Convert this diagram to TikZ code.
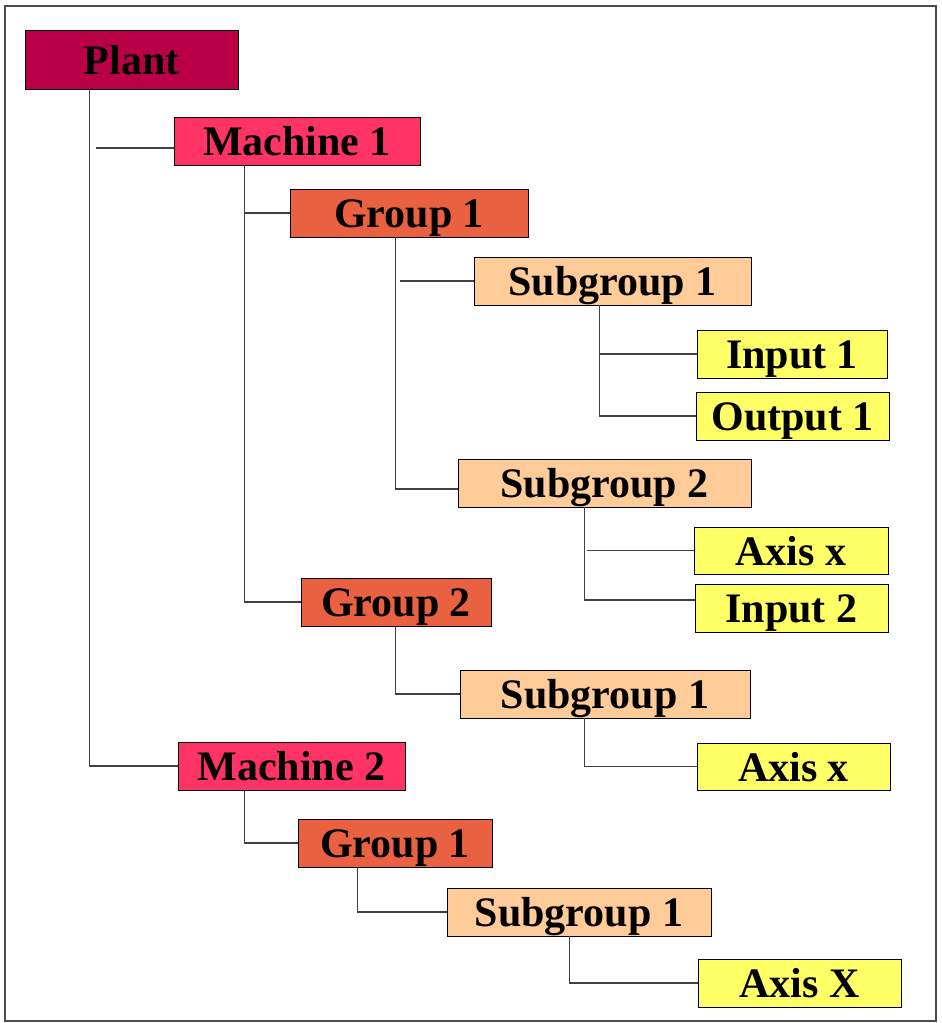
\documentclass[tikz,border=0pt]{standalone}
\usepackage{fontspec}
\setmainfont{Liberation Serif}
\usepackage{xcolor}
\definecolor{plantc}{HTML}{B90046}
\definecolor{machc}{HTML}{FF3366}
\definecolor{groupc}{HTML}{E96140}
\definecolor{subc}{HTML}{FFCC99}
\definecolor{leafc}{HTML}{FFFF66}
\tikzset{
	box/.style={draw=black,line width=0.9pt,inner sep=0pt,text height=29pt,text depth=0pt,font=\fontsize{42}{42}\selectfont\bfseries},
	link/.style={draw=black!75,line width=1.3pt}
}

\begin{document}
\begin{tikzpicture}[x=1pt,y=-1pt]
		\useasboundingbox (0,0) rectangle (942,1023);
		\draw[black!70,line width=1.2pt] (5,6) rectangle (936,1021);
		%boxes
		\node[box,fill=plantc,minimum width=213,minimum height=59] (plant) at (131.5,59.5) {Plant};
		\node[box,fill=machc,minimum width=246,minimum height=48] (m1) at (297,141) {Machine 1};
		\node[box,fill=groupc,minimum width=238,minimum height=48] (g11) at (409,213) {Group 1};
		\node[box,fill=subc,minimum width=277,minimum height=48] (s111) at (612.5,281) {Subgroup 1};
		\node[box,fill=leafc,minimum width=190,minimum height=48] (in1) at (792,354) {Input 1};
		\node[box,fill=leafc,minimum width=193,minimum height=48] (out1) at (792.5,416) {Output 1};
		\node[box,fill=subc,minimum width=293,minimum height=48] (s112) at (604.5,483) {Subgroup 2};
		\node[box,fill=leafc,minimum width=194,minimum height=47] (ax1) at (791,550.5) {Axis x};
		\node[box,fill=leafc,minimum width=193,minimum height=48] (in2) at (791.5,608) {Input 2};
		\node[box,fill=groupc,minimum width=190,minimum height=48] (g12) at (396,602) {Group 2};
		\node[box,fill=subc,minimum width=290,minimum height=48] (s121) at (605,694) {Subgroup 1};
		\node[box,fill=leafc,minimum width=193,minimum height=47] (ax2) at (793.5,766.5) {Axis x};
		\node[box,fill=machc,minimum width=227,minimum height=48] (m2) at (291.5,766) {Machine 2};
		\node[box,fill=groupc,minimum width=194,minimum height=48] (g21) at (395,843) {Group 1};
		\node[box,fill=subc,minimum width=264,minimum height=48] (s211) at (579,912) {Subgroup 1};
		\node[box,fill=leafc,minimum width=203,minimum height=48] (ax3) at (799.5,983) {Axis X};
		%trunks
		\coordinate (tp) at ([xshift=65]plant.south west);
		\coordinate (tm1) at ([xshift=71]m1.south west);
		\coordinate (tg11) at ([xshift=106]g11.south west);
		\coordinate (ts111) at ([xshift=126]s111.south west);
		\coordinate (ts112) at ([xshift=127]s112.south west);
		\coordinate (tg12) at ([xshift=95]g12.south west);
		\coordinate (ts121) at ([xshift=125]s121.south west);
		\coordinate (tm2) at ([xshift=67]m2.south west);
		\coordinate (tg21) at ([xshift=60]g21.south west);
		\coordinate (ts211) at ([xshift=123]s211.south west);
		%plant
		\draw[link] (tp) |- (m2.west);
		\draw[link] (tp |- 0,148) ++(6,0) -- (m1.west |- 0,148);
		%machine 1
		\draw[link] (tm1) |- (g12.west);
		\draw[link] (tm1 |- g11.west) -- (g11.west);
		%group 1
		\draw[link] (tg11) |- (s112.west |- 0,489);
		\draw[link] (tg11 |- s111.west) ++(4,0) -- (s111.west);
		\draw[link] (ts111) |- (out1.west);
		\draw[link] (ts111 |- in1.west) -- (in1.west);
		\draw[link] (ts112) |- (in2.west |- 0,600);
		\draw[link] (ts112 |- ax1.west) ++(2,0) -- (ax1.west);
		%group 2
		\draw[link] (tg12) |- (s121.west);
		\draw[link] (ts121) |- (ax2.west);
		%machine 2
		\draw[link] (tm2) |- (g21.west);
		\draw[link] (tg21) |- (s211.west);
		\draw[link] (ts211) |- (ax3.west);
	\end{tikzpicture}
\end{document}
